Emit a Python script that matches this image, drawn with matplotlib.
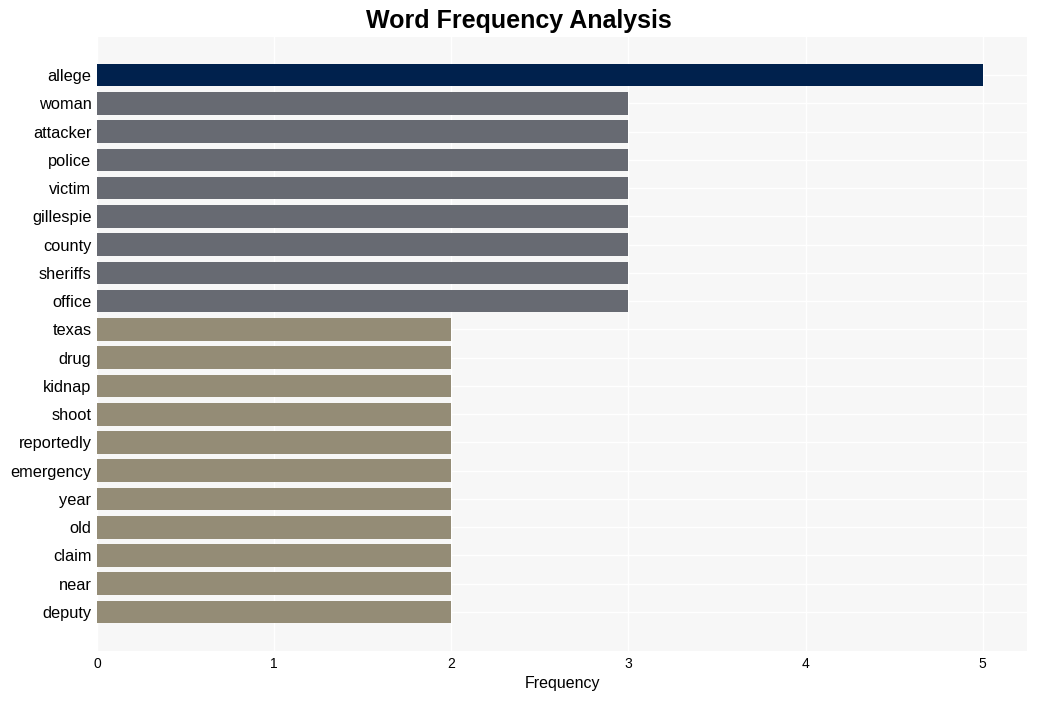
import matplotlib
matplotlib.use("Agg")
import matplotlib.pyplot as plt

plt.rcParams['font.family'] = ['Liberation Sans', 'DejaVu Sans']

words = ["allege", "woman", "attacker", "police", "victim", "gillespie", "county",
         "sheriffs", "office", "texas", "drug", "kidnap", "shoot", "reportedly",
         "emergency", "year", "old", "claim", "near", "deputy"]
counts = [5, 3, 3, 3, 3, 3, 3, 3, 3, 2, 2, 2, 2, 2, 2, 2, 2, 2, 2, 2]

def bar_color(c):
    if c >= 5:
        return "#00214d"
    if c == 3:
        return "#676a72"
    return "#948c76"

colors = [bar_color(c) for c in counts]

fig = plt.figure(figsize=(10.37, 7.01), dpi=100)
ax = fig.add_axes([97 / 1037, 1 - 651 / 701, (1027 - 97) / 1037, (651 - 37) / 701])
ax.set_facecolor("#f7f7f7")

y = list(range(len(words)))
ax.barh(y, counts, height=0.8, color=colors, zorder=3)

ax.set_yticks(y)
ax.set_yticklabels(words, fontsize=11.8)
ax.set_xticks([0, 1, 2, 3, 4, 5])
ax.tick_params(axis="x", labelsize=10)
ax.tick_params(length=0, pad=4)
ax.set_xlim(0, 5.25)
ax.set_ylim(len(words) - 1 + 1.38, -1.35)

ax.grid(True, color="white", linewidth=1, zorder=0)
ax.set_axisbelow(True)
for s in ax.spines.values():
    s.set_visible(False)

ax.set_xlabel("Frequency", fontsize=11.5, labelpad=4)
fig.suptitle("Word Frequency Analysis", fontsize=18, fontweight="bold", y=0.987)

fig.savefig("out.png", dpi=100)
